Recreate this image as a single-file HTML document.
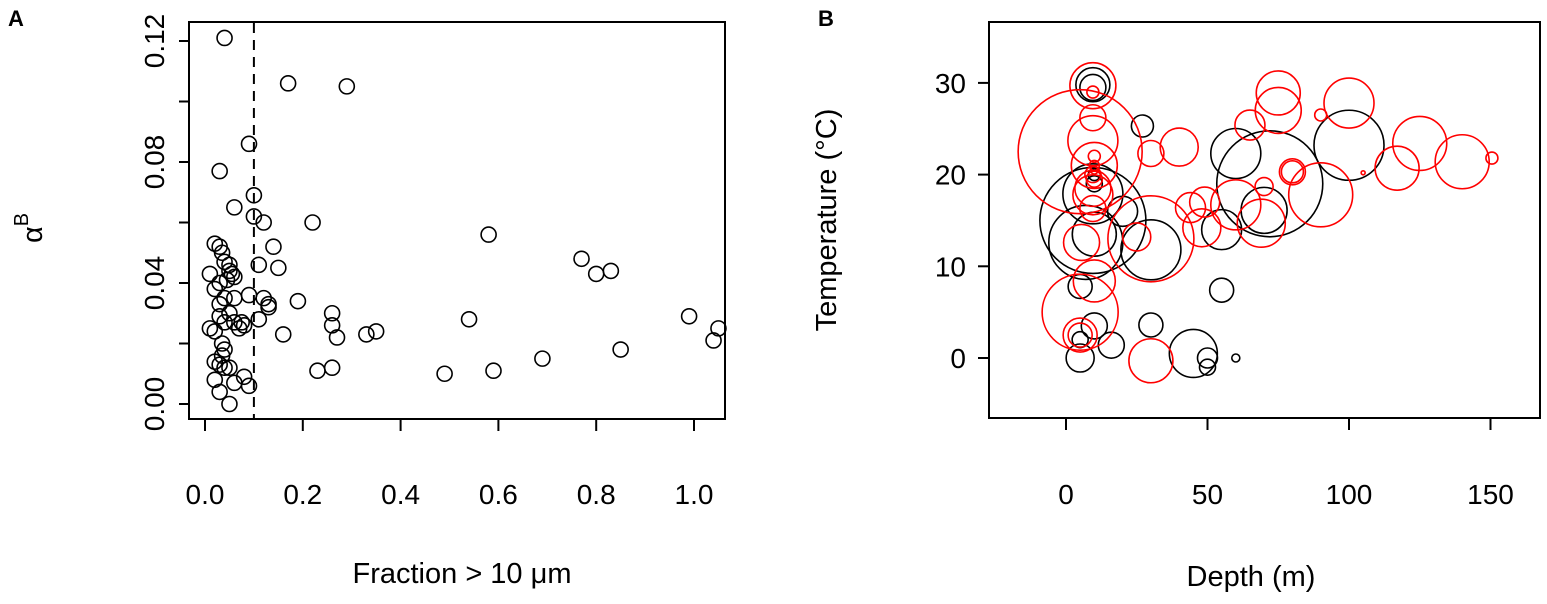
<!DOCTYPE html>
<html><head><meta charset="utf-8"><style>
body{margin:0;background:#fff}
svg{display:block;font-family:"Liberation Sans",sans-serif}
</style></head><body>
<svg id="s" width="1547" height="604" viewBox="0 0 1547 604">
<text x="8" y="26" font-size="22" font-weight="bold">A</text>
<text x="818" y="26" font-size="22" font-weight="bold">B</text>
<rect x="189" y="22" width="536" height="397" fill="none" stroke="#000" stroke-width="2"/>
<rect x="989" y="22" width="551" height="396" fill="none" stroke="#000" stroke-width="2"/>
<text transform="translate(42,228) rotate(-90)" font-size="29" text-anchor="middle">α<tspan dy="-14" font-size="20">B</tspan></text>
<text x="462" y="583" font-size="29" text-anchor="middle">Fraction &gt; 10 μm</text>
<text transform="translate(836,220) rotate(-90)" font-size="29" text-anchor="middle">Temperature (°C)</text>
<text x="1251" y="586" font-size="29" text-anchor="middle">Depth (m)</text>
<g id="ga"></g><g id="gb"></g>
</svg>
<script>
const aFrac=[0.04,0.17,0.29,0.09,0.03,0.10,0.06,0.10,0.12,0.22,0.14,0.15,0.11,0.58,0.77,0.80,0.83,0.19,0.12,0.13,0.13,0.26,0.26,0.27,0.16,0.33,0.35,0.54,0.99,1.05,1.04,0.85,0.69,0.49,0.59,0.23,0.26,0.11,0.09,0.08,0.07,0.09,0.08,0.05,0.03,0.06,0.02,0.03,0.035,0.04,0.05,0.05,0.055,0.06,0.045,0.01,0.03,0.02,0.04,0.06,0.03,0.05,0.03,0.04,0.06,0.01,0.02,0.035,0.04,0.035,0.02,0.03,0.04,0.05,0.02,0.075];
const aAlpha=[0.121,0.106,0.105,0.086,0.077,0.069,0.065,0.062,0.060,0.060,0.052,0.045,0.046,0.056,0.048,0.043,0.044,0.034,0.035,0.033,0.032,0.030,0.026,0.022,0.023,0.023,0.024,0.028,0.029,0.025,0.021,0.018,0.015,0.010,0.011,0.011,0.012,0.028,0.036,0.026,0.025,0.006,0.009,0.000,0.004,0.007,0.053,0.052,0.050,0.047,0.046,0.044,0.043,0.042,0.041,0.043,0.040,0.038,0.035,0.035,0.033,0.030,0.029,0.027,0.027,0.025,0.024,0.020,0.018,0.016,0.014,0.013,0.012,0.012,0.008,0.027];
const aXTicks=[0.0,0.2,0.4,0.6,0.8,1.0];
const aYTicks=[0.00,0.04,0.08,0.12];
const aYMinor=[0.02,0.06,0.10];
const aCut=[0.1];
const bBlackDepth=[9.5,9.5,27,60,72,70,55,9.5,9.5,7,10,30,20,5,55,30,5,16,10,5,45,50,50,60,100,10,10];
const bBlackTemp=[29.8,29.5,25.3,22.3,19,16.1,14,15,17.9,12.6,13.5,11.8,16,7.8,7.4,3.6,0,1.4,3.5,2,0.5,0,-1,0,23.2,19,20];
const bBlackR=[17,13,11,25,53,23,20,53,30,37,22,30,15,12,12,12,14,13,13,8,24,10,8,4,35,8,6];
const bRedDepth=[9.5,9.5,9.5,9.5,5,10,9.5,9.5,9.5,9.5,5.5,10,5,5,5,30,25,30,40,30,44,49,48,60,65,75,75,70,69,80,80,90,100,90,105,117,125,140,150.5,10,10,10,10];
const bRedTemp=[29.7,29,26.2,23.7,22.5,21,18.5,17.8,16.3,20,12.6,8.4,5,2.5,2.5,13,13.2,22.3,23,-0.3,16.4,17,14.2,16.7,25.4,28.9,27,18.7,14.7,20.3,20.3,17.8,27.8,26.5,20.2,20.7,23.4,21.4,21.8,22,21,19.5,20.5];
const bRedR=[23,6,13,25,62,23,18,20,13,8,18,21,38,17,12,43,14,13,19,22,15,15,19,25,15,22,23,9,24,13,11,32,25,6,2,22,27,27,6,6,5,8,4];
const bXTicks=[0,50,100,150];
const bYTicks=[0,10,20,30];
const NS='http://www.w3.org/2000/svg';
function mk(p,t,at){const e=document.createElementNS(NS,t);for(const k in at)e.setAttribute(k,at[k]);p.appendChild(e);return e;}
const ax=v=>205+v*489, ay=v=>404-v*3025;
const bx=v=>1066+v*2.83, by=v=>358-v*9.17;
const ga=document.getElementById('ga'), gb=document.getElementById('gb');
aXTicks.forEach(v=>{
 const t=mk(ga,'line',{x1:ax(v),x2:ax(v),y1:419,y2:431,stroke:'#000','stroke-width':2});
 
 
 const l=mk(ga,'text',{x:ax(v),y:504,'font-size':28,'text-anchor':'middle'});l.textContent=v.toFixed(1);
 
 
});
aYTicks.concat(aYMinor).forEach(v=>{
 const t=mk(ga,'line',{x1:179,x2:189,y1:ay(v),y2:ay(v),stroke:'#000','stroke-width':2});
 
 
});
aYTicks.forEach(v=>{
 const l=mk(ga,'text',{transform:`translate(164,${ay(v)}) rotate(-90)`,'font-size':28,'text-anchor':'middle'});l.textContent=v.toFixed(2);
 
 
});
aCut.forEach(v=>{
 const d=mk(ga,'line',{x1:ax(v),x2:ax(v),y1:23,y2:418,stroke:'#000','stroke-width':2,'stroke-dasharray':'10,7'});
 
 
});
aFrac.forEach((f,i)=>{
 const c=mk(ga,'circle',{cx:ax(f),cy:ay(aAlpha[i]),r:7.5,fill:'none',stroke:'#000','stroke-width':1.6});
 
 
});
bXTicks.forEach(v=>{
 const t=mk(gb,'line',{x1:bx(v),x2:bx(v),y1:418,y2:430,stroke:'#000','stroke-width':2});
 
 
 const l=mk(gb,'text',{x:bx(v),y:504,'font-size':28,'text-anchor':'middle'});l.textContent=v;
 
 
});
bYTicks.forEach(v=>{
 const t=mk(gb,'line',{x1:978,x2:989,y1:by(v),y2:by(v),stroke:'#000','stroke-width':2});
 
 
 const l=mk(gb,'text',{x:966,y:by(v)+10,'font-size':28,'text-anchor':'end'});l.textContent=v;
 
 
});
bBlackDepth.forEach((d,i)=>{
 const c=mk(gb,'circle',{cx:bx(d),cy:by(bBlackTemp[i]),r:bBlackR[i],fill:'none',stroke:'#000','stroke-width':1.6});
 
 
});
bRedDepth.forEach((d,i)=>{
 const c=mk(gb,'circle',{cx:bx(d),cy:by(bRedTemp[i]),r:bRedR[i],fill:'none',stroke:'#f00','stroke-width':1.6});
 
 
});
</script>
</body></html>
